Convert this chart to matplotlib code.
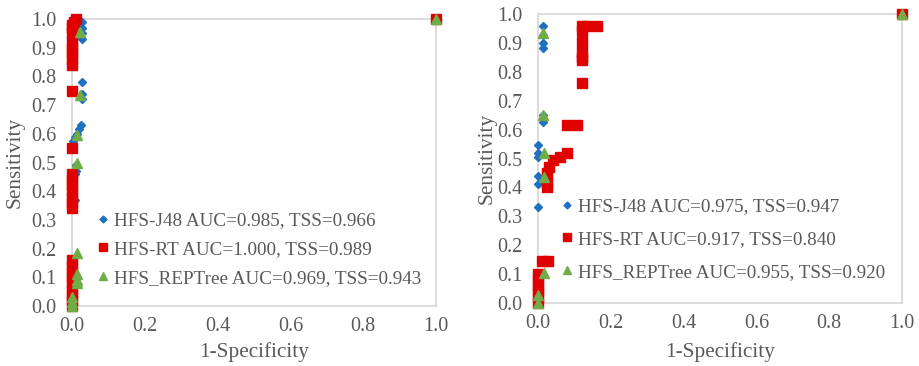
import matplotlib
matplotlib.use("Agg")
import matplotlib.pyplot as plt

plt.rcParams['font.family'] = ['Liberation Serif', 'DejaVu Serif']

GRAY = "#595959"
BLUE = "#1F70C1"
RED = "#E00000"
GREEN = "#70AD47"

# left panel
l_j48_x = [0.027, 0.027, 0.027, 0.027, 0.027, 0.027, 0.027, 0.026, 0.020, 0.014, 0.008, 0.004,
           0.012, 0.010, 0.008, 0.008, 1.0]
l_j48_y = [0.99, 0.97, 0.95, 0.93, 0.78, 0.74, 0.72, 0.63, 0.615, 0.60, 0.59, 0.575,
           0.49, 0.47, 0.46, 0.37, 1.0]
l_rt_x = [0.0] * 26 + [0.005, 0.01, 1.0]
l_rt_y = [0.0, 0.02, 0.04, 0.06, 0.08, 0.10, 0.12, 0.14, 0.16,
          0.34, 0.36, 0.38, 0.40, 0.42, 0.44, 0.46, 0.55, 0.75,
          0.84, 0.86, 0.88, 0.90, 0.92, 0.95, 0.97, 0.98, 0.99, 1.0, 1.0]
l_rep_x = [0.022, 0.022, 0.013, 0.013, 0.013, 0.013, 0.013, 0.013, 0.0, 0.0, 0.0, 1.0]
l_rep_y = [0.955, 0.735, 0.595, 0.50, 0.185, 0.11, 0.09, 0.08, 0.03, 0.015, 0.0, 1.0]
l_labels = ["HFS-J48 AUC=0.985, TSS=0.966",
            "HFS-RT AUC=1.000, TSS=0.989",
            "HFS_REPTree AUC=0.969, TSS=0.943"]

# right panel
r_j48_x = [0.013, 0.013, 0.013, 0.013, 0.013, 0.013, 0.0, 0.0, 0.0, 0.0, 0.0, 0.0, 1.0]
r_j48_y = [0.958, 0.927, 0.899, 0.881, 0.65, 0.627, 0.547, 0.519, 0.506, 0.44, 0.412, 0.332, 1.0]
r_rt_x = [0.0, 0.0, 0.0, 0.0, 0.0, 0.0, 0.01, 0.028, 0.024, 0.024, 0.026, 0.03, 0.042, 0.06,
          0.079, 0.079, 0.106, 0.12, 0.12, 0.12, 0.12, 0.12, 0.12, 0.12, 0.134, 0.161, 1.0]
r_rt_y = [0.0, 0.02, 0.04, 0.06, 0.08, 0.10, 0.145, 0.145, 0.40, 0.415, 0.45, 0.47, 0.495, 0.505,
          0.519, 0.615, 0.615, 0.76, 0.84, 0.852, 0.87, 0.904, 0.94, 0.958, 0.958, 0.958, 1.0]
r_rep_x = [0.013, 0.013, 0.016, 0.016, 0.016, 0.0, 0.0, 1.0]
r_rep_y = [0.934, 0.65, 0.52, 0.437, 0.104, 0.028, 0.0, 1.0]
r_labels = ["HFS-J48 AUC=0.975, TSS=0.947",
            "HFS-RT AUC=0.917, TSS=0.840",
            "HFS_REPTree AUC=0.955, TSS=0.920"]

fig = plt.figure(figsize=(9.19, 3.66), dpi=100)
ax1 = fig.add_axes([72 / 919, 1 - 306 / 366, 364 / 919, 287 / 366])
ax2 = fig.add_axes([538 / 919, 1 - 303 / 366, 364 / 919, 289 / 366])


def draw(ax, series, labels, leg_anchor, spacing, ylab_x, xlab_y):
    for (x, y), lab, mk, ms, col in zip(series, labels, ["D", "s", "^"], [4.4, 6.5, 6.8],
                                        [BLUE, RED, GREEN]):
        ax.plot(x, y, ls="none", marker=mk, ms=ms, color=col, mec=col, label=lab,
                clip_on=False, zorder=3)
    ax.set_xlim(0, 1)
    ax.set_ylim(0, 1)
    ax.set_xticks([i / 5 for i in range(6)])
    ax.set_yticks([i / 10 for i in range(11)])
    ax.xaxis.set_major_formatter(matplotlib.ticker.FormatStrFormatter("%.1f"))
    ax.yaxis.set_major_formatter(matplotlib.ticker.FormatStrFormatter("%.1f"))
    ax.tick_params(length=0, labelsize=14.5, labelcolor=GRAY)
    ax.tick_params(axis="y", pad=11)
    ax.tick_params(axis="x", pad=8)
    for s in ax.spines.values():
        s.set_color("#D9D9D9")
        s.set_linewidth(1.3)
    ax.set_xlabel("1-Specificity", fontsize=15.3, color=GRAY)
    ax.set_ylabel("Sensitivity", fontsize=15.3, color=GRAY)
    ax.xaxis.set_label_coords(0.5, xlab_y)
    ax.xaxis.label.set_va("center")
    ax.yaxis.set_label_coords(ylab_x, 0.5)
    ax.yaxis.label.set_va("center")
    leg = ax.legend(loc="center left", bbox_to_anchor=leg_anchor, frameon=False,
                    fontsize=13.8, borderpad=0, borderaxespad=0, handlelength=0.8,
                    handletextpad=0.15, labelspacing=spacing, markerscale=0.8)
    for t in leg.get_texts():
        t.set_color(GRAY)


draw(ax1, [(l_j48_x, l_j48_y), (l_rt_x, l_rt_y), (l_rep_x, l_rep_y)], l_labels,
     (0.0646, 0.197), 0.6, -0.157, -0.16)
draw(ax2, [(r_j48_x, r_j48_y), (r_rt_x, r_rt_y), (r_rep_x, r_rep_y)], r_labels,
     (0.059, 0.22), 0.8, -0.14, -0.17)

fig.savefig("out.png", dpi=100)
